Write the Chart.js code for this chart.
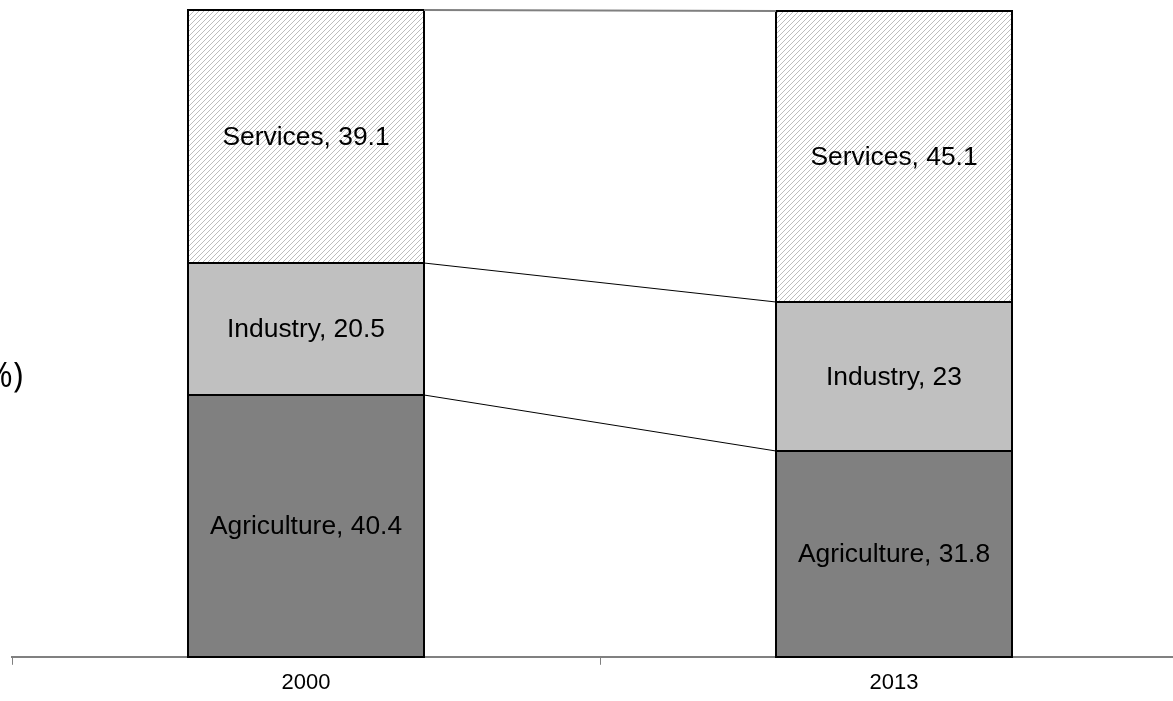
<!DOCTYPE html>
<html>
<head>
<meta charset="utf-8">
<script src="https://cdn.jsdelivr.net/npm/chart.js@4/dist/chart.umd.min.js"></script>
<style>
  html, body { margin: 0; padding: 0; background: #fff; overflow: hidden; }
  #wrap { position: relative; width: 1200px; height: 701px; }
</style>
</head>
<body>
<div id="wrap"><canvas id="chart"></canvas></div>
<script>
// Employment by sector, share of total (%)
const years       = ["2000", "2013"];
const agriculture = [40.4, 31.8];
const industry    = [20.5, 23];
const services    = [39.1, 45.1];
const sectorNames = ["Agriculture", "Industry", "Services"];
const axisTitle   = "Share (%)";

// diagonal hatch fill for the services block
function hatch() {
  const c = document.createElement("canvas");
  c.width = 5; c.height = 5;
  const g = c.getContext("2d");
  g.strokeStyle = "#bdbdbd";
  g.lineWidth = 1;
  g.beginPath();
  g.moveTo(-1, 6); g.lineTo(6, -1);
  g.moveTo(-1, 1); g.lineTo(1, -1);
  g.moveTo(4, 6); g.lineTo(6, 4);
  g.stroke();
  return g.createPattern(c, "repeat");
}

const ctx = document.getElementById("chart").getContext("2d");
const fills = ["#808080", "#c0c0c0", hatch()];
const series = [agriculture, industry, services];

// outlines, connector lines between the bars, and text labels
const extras = {
  id: "extras",
  afterDatasetsDraw(chart) {
    const c = chart.ctx;
    const y = chart.scales.y;

    // black outline round every segment
    c.save();
    c.strokeStyle = "#000";
    c.lineWidth = 2;
    chart.data.datasets.forEach((ds, i) => {
      chart.getDatasetMeta(i).data.forEach(bar => {
        const l = Math.round(bar.x - bar.width / 2);
        const r = Math.round(bar.x + bar.width / 2);
        const t = Math.round(bar.y);
        const b = Math.round(bar.base);
        c.strokeRect(l, t, r - l, b - t);
      });
    });
    c.restore();

    const m0 = chart.getDatasetMeta(0).data;
    const x1 = Math.round(m0[0].x + m0[0].width / 2);
    const x2 = Math.round(m0[1].x - m0[1].width / 2);
    let a = 0, b = 0;
    series.forEach((s, i) => {
      a += s[0]; b += s[1];
      c.save();
      const top = i === series.length - 1;
      c.strokeStyle = top ? "#808080" : "#000";
      c.lineWidth = top ? 2 : 1;
      c.beginPath();
      c.moveTo(x1, Math.round(y.getPixelForValue(a)));
      c.lineTo(x2, Math.round(y.getPixelForValue(b)));
      c.stroke();
      c.restore();
    });

    // segment labels
    c.save();
    c.font = "26.4px 'Liberation Sans', Arial, sans-serif";
    c.fillStyle = "#000";
    c.textAlign = "center";
    c.textBaseline = "middle";
    chart.data.datasets.forEach((ds, i) => {
      chart.getDatasetMeta(i).data.forEach((bar, j) => {
        const mid = (bar.y + bar.base) / 2;
        c.fillText(ds.label + ", " + ds.data[j], bar.x, mid + 1);
      });
    });
    c.restore();

    // y-axis title, horizontal at the left edge
    c.save();
    c.font = "34px 'Open Sans', sans-serif";
    c.fillStyle = "#000";
    c.textAlign = "right";
    c.textBaseline = "middle";
    c.fillText(axisTitle, 23, 377);
    c.restore();
  }
};

new Chart(ctx, {
  type: "bar",
  data: {
    labels: years,
    datasets: series.map((s, i) => ({
      label: sectorNames[i],
      data: s,
      backgroundColor: fills[i],
      borderWidth: 0,
      categoryPercentage: 1,
      barPercentage: 0.401
    }))
  },
  options: {
    responsive: true,
    maintainAspectRatio: false,
    animation: false,
    layout: { padding: { left: 12, right: 12, top: 10, bottom: 0 } },
    plugins: { legend: { display: false }, tooltip: { enabled: false } },
    scales: {
      x: {
        stacked: true,
        grid: { offset: true, drawOnChartArea: false, color: "#808080", tickLength: 8, lineWidth: 1 },
        border: { color: "#808080", width: 2 },
        ticks: {
          color: "#000",
          padding: 6,
          font: { family: "'Liberation Sans', Arial, sans-serif", size: 22, lineHeight: 1.1 }
        }
      },
      y: { stacked: true, display: false, min: 0, max: 100 }
    }
  },
  plugins: [extras]
});
</script>
</body>
</html>
